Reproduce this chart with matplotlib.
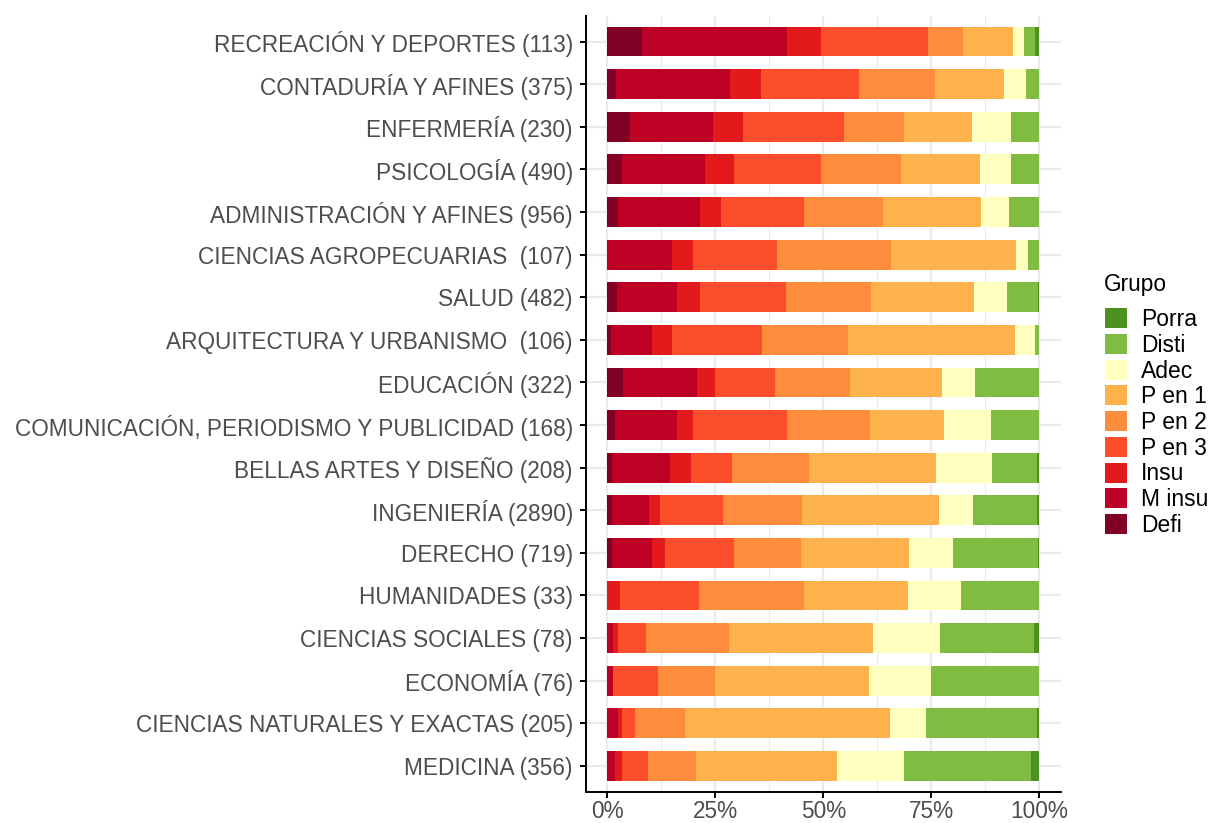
import matplotlib
matplotlib.use("Agg")
import matplotlib.pyplot as plt
import numpy as np
from matplotlib.patches import Patch

plt.rcParams['font.family'] = ['Liberation Sans', 'DejaVu Sans']

categories = [
    "RECREACIÓN Y DEPORTES (113)",
    "CONTADURÍA Y AFINES (375)",
    "ENFERMERÍA (230)",
    "PSICOLOGÍA (490)",
    "ADMINISTRACIÓN Y AFINES (956)",
    "CIENCIAS AGROPECUARIAS  (107)",
    "SALUD (482)",
    "ARQUITECTURA Y URBANISMO  (106)",
    "EDUCACIÓN (322)",
    "COMUNICACIÓN, PERIODISMO Y PUBLICIDAD (168)",
    "BELLAS ARTES Y DISEÑO (208)",
    "INGENIERÍA (2890)",
    "DERECHO (719)",
    "HUMANIDADES (33)",
    "CIENCIAS SOCIALES (78)",
    "ECONOMÍA (76)",
    "CIENCIAS NATURALES Y EXACTAS (205)",
    "MEDICINA (356)",
]

groups = ["Defi", "M insu", "Insu", "P en 3", "P en 2", "P en 1", "Adec", "Disti", "Porra"]

# percentages per group (rows follow categories order)
defi   = [8.0, 2.1, 5.3, 3.5, 2.5, 0.0, 2.3, 0.9, 3.7, 1.85, 1.2, 1.2, 1.2, 0.0, 0.0, 0.0, 0.0, 0.0]
m_insu = [33.6, 26.4, 19.2, 19.2, 19.0, 15.0, 13.9, 9.4, 17.1, 14.3, 13.4, 8.55, 9.25, 0.0, 1.28, 1.32, 2.44, 1.85]
insu   = [8.0, 7.2, 6.9, 6.7, 4.9, 4.9, 5.3, 4.7, 4.2, 3.7, 4.9, 2.55, 3.0, 3.03, 1.28, 0.0, 0.98, 1.6]
p_en_3 = [24.8, 22.7, 23.4, 20.1, 19.2, 19.4, 19.9, 20.8, 13.9, 21.7, 9.5, 14.6, 16.0, 18.18, 6.41, 10.5, 2.93, 6.0]
p_en_2 = [8.0, 17.6, 13.9, 18.5, 18.3, 26.4, 19.7, 19.9, 17.35, 19.2, 17.8, 18.3, 15.5, 24.24, 19.23, 13.2, 11.7, 11.1]
p_en_1 = [11.5, 16.0, 15.7, 18.3, 22.7, 28.9, 23.8, 38.6, 21.3, 17.1, 29.4, 31.7, 25.0, 24.24, 33.33, 35.5, 47.3, 32.6]
adec   = [2.65, 5.1, 9.0, 7.2, 6.5, 2.8, 7.6, 4.7, 7.6, 10.9, 12.95, 7.9, 10.2, 12.12, 15.38, 14.5, 8.3, 15.5]
disti  = [2.65, 3.1, 6.55, 6.55, 7.0, 2.6, 7.2, 1.0, 14.9, 11.2, 10.4, 14.8, 19.7, 18.18, 21.79, 25.0, 25.85, 29.4]
porra  = [0.9, 0.0, 0.0, 0.0, 0.0, 0.0, 0.3, 0.0, 0.0, 0.0, 0.5, 0.5, 0.3, 0.0, 1.28, 0.0, 0.49, 1.9]

colors = {
    "Defi": "#800026",
    "M insu": "#BD0026",
    "Insu": "#E31A1C",
    "P en 3": "#FC4E2A",
    "P en 2": "#FD8D3C",
    "P en 1": "#FEB24C",
    "Adec": "#FFFFC0",
    "Disti": "#7FBC41",
    "Porra": "#4D9221",
}

series = [defi, m_insu, insu, p_en_3, p_en_2, p_en_1, adec, disti, porra]
data = np.array(series, dtype=float)
data = data / data.sum(axis=0) * 100.0

fig = plt.figure(figsize=(12.18, 8.23), dpi=100)
ax = fig.add_axes([585.5 / 1218, 1 - 791.5 / 823, (1061 - 585.5) / 1218, (791.5 - 16) / 823])

n = len(categories)
ypos = np.arange(n)[::-1] + 1  # first category at top

# grid
for v in [12.5, 37.5, 62.5, 87.5]:
    ax.axvline(v, color="#EBEBEB", lw=0.8, zorder=0)
for v in [0, 25, 50, 75, 100]:
    ax.axvline(v, color="#EBEBEB", lw=1.6, zorder=0)
for y in ypos:
    ax.axhline(y, color="#EBEBEB", lw=1.6, zorder=0)

left = np.zeros(n)
for g, vals in zip(groups, data):
    ax.barh(ypos, vals, left=left, height=0.7, color=colors[g], edgecolor="none", zorder=2)
    left += vals

ax.set_xlim(-5, 105)
ax.set_ylim(0.4, n + 0.6)
ax.set_yticks(ypos)
ax.set_yticklabels(categories)
ax.set_xticks([0, 25, 50, 75, 100])
ax.set_xticklabels(["0%", "25%", "50%", "75%", "100%"])

for s in ["top", "right"]:
    ax.spines[s].set_visible(False)
for s in ["left", "bottom"]:
    ax.spines[s].set_color("black")
    ax.spines[s].set_linewidth(1.4)
ax.tick_params(axis="both", colors="black", length=4.5, width=1.4, labelsize=16.3, labelcolor="#4D4D4D")
ax.tick_params(axis="y", pad=4.5)
ax.tick_params(axis="x", pad=1.5)

fig.text(1104 / 1218, 1 - 284 / 823, "Grupo", fontsize=16.3, color="black", ha="left", va="center")

handles = [Patch(facecolor=colors[g], edgecolor="none") for g in groups[::-1]]
leg = fig.legend(handles, groups[::-1], loc="upper left",
                 bbox_to_anchor=(1105 / 1218, 1 - 308 / 823), frameon=False,
                 fontsize=16.5, handlelength=0.96, handleheight=0.96,
                 labelspacing=0.12, handletextpad=0.6, borderaxespad=0, borderpad=0)

fig.savefig("out.png", dpi=100)
